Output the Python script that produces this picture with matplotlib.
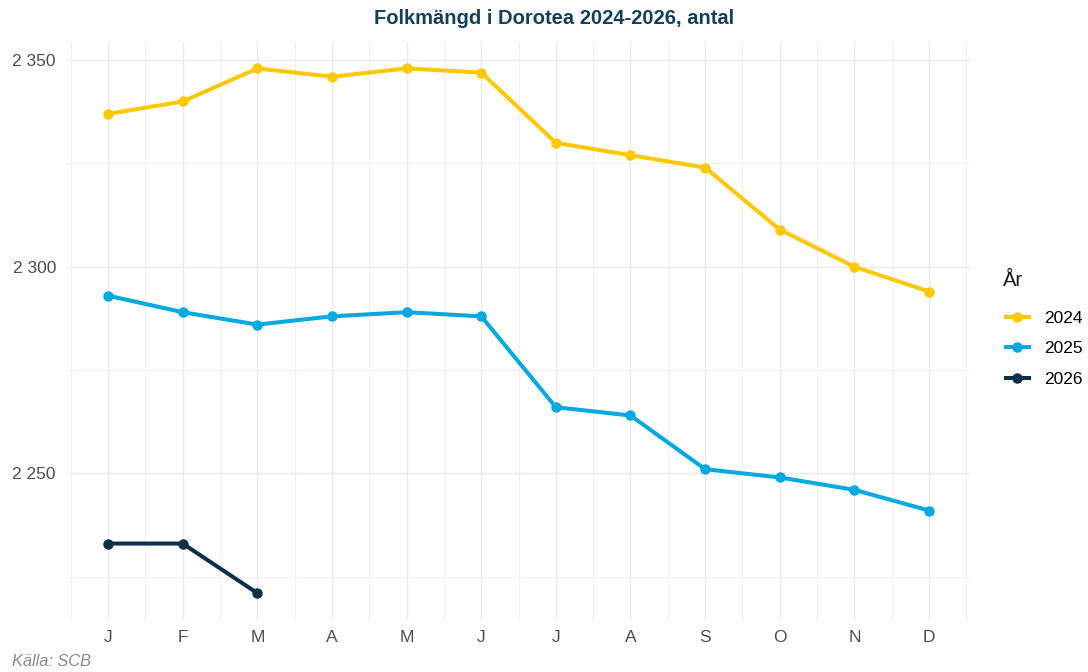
import matplotlib
matplotlib.use("Agg")
import matplotlib.pyplot as plt
from matplotlib.ticker import FixedLocator, FuncFormatter

plt.rcParams['font.family'] = ['Liberation Sans', 'DejaVu Sans']

months = list(range(1, 13))
month_labels = ["J", "F", "M", "A", "M", "J", "J", "A", "S", "O", "N", "D"]

pop_2024 = [2337, 2340, 2348, 2346, 2348, 2347, 2330, 2327, 2324, 2309, 2300, 2294]
pop_2025 = [2293, 2289, 2286, 2288, 2289, 2288, 2266, 2264, 2251, 2249, 2246, 2241]
pop_2026 = [2233, 2233, 2221]

years = ["2024", "2025", "2026"]
colors = ["#FFC800", "#00A9E0", "#0B3049"]

fig = plt.figure(figsize=(10.88, 6.72), dpi=100)
ax = fig.add_axes([0.0616, 0.0774, 0.83, 0.8601])

series = [pop_2024, pop_2025, pop_2026]
for yr, vals, c in zip(years, series, colors):
    ax.plot(months[:len(vals)], vals, color=c, lw=2.9, marker="o", ms=6.5,
            label=yr, solid_capstyle="butt")

ax.set_xlim(0.45, 12.55)
ax.set_ylim(2214.5, 2354.4)

ax.xaxis.set_major_locator(FixedLocator(months))
ax.xaxis.set_minor_locator(FixedLocator([m + 0.5 for m in range(0, 13)]))
ax.set_xticklabels(month_labels)
ax.yaxis.set_major_locator(FixedLocator([2250, 2300, 2350]))
ax.yaxis.set_minor_locator(FixedLocator([2225, 2275, 2325]))
ax.yaxis.set_major_formatter(FuncFormatter(lambda v, p: f"{int(v):,}".replace(",", " ")))

ax.grid(which="major", color="#EBEBEB", lw=1.0)
ax.grid(which="minor", color="#F0F0F0", lw=0.8)
ax.set_axisbelow(True)
for s in ax.spines.values():
    s.set_visible(False)
ax.tick_params(which="both", length=0)
ax.tick_params(axis="both", labelsize=12.5, colors="#4D4D4D")
ax.tick_params(axis="x", pad=7)
ax.tick_params(axis="y", pad=8)

fig.text(554 / 1088, 1 - 18 / 672, "Folkmängd i Dorotea 2024-2026, antal",
         ha="center", va="center", fontsize=14.5, fontweight="bold", color="#123F5A")
fig.text(12 / 1088, 1 - 662 / 672, "Källa: SCB", ha="left", va="center",
         fontsize=11.8, style="italic", color="#8A8A8A")

# legend title drawn separately so its gap to the keys can match
fig.text(1003 / 1088, 1 - 281 / 672, "År", ha="left", va="center",
         fontsize=14.5, color="#1A1A1A")
leg = fig.legend(loc="upper left", bbox_to_anchor=(1004 / 1088, 1 - 311 / 672),
                 frameon=False, fontsize=12.5,
                 handlelength=1.55, handletextpad=0.75, labelspacing=0.87,
                 borderpad=0, borderaxespad=0)

fig.savefig("out.png", dpi=100)
